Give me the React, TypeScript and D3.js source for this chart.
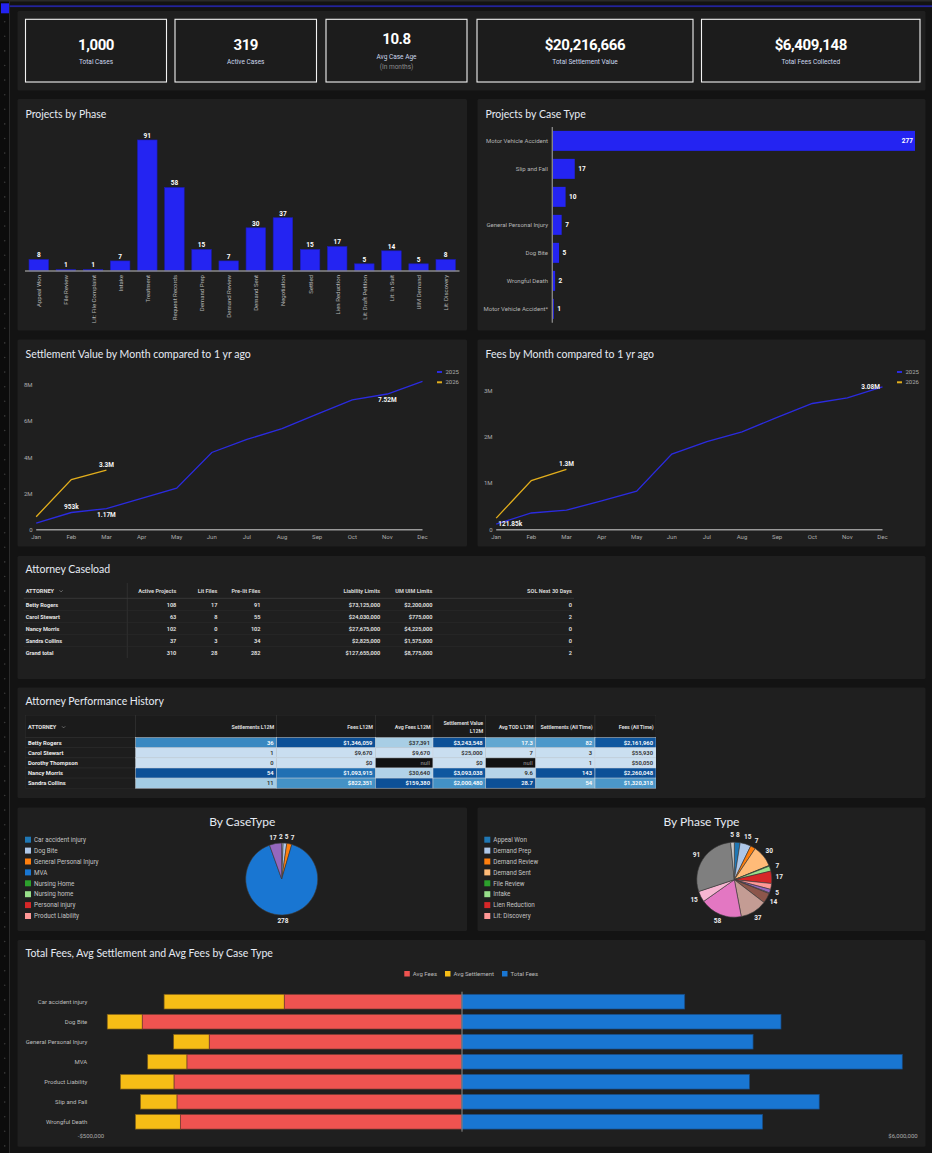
import React from "react";
import * as d3 from "d3";

const W = 932;
const H = 1153;

const FONT = "Roboto, 'Noto Sans', sans-serif";
const TITLE_FONT = "Lato, 'Open Sans', sans-serif";
const PAGE_BG = "#131313";
const PANEL_BG = "#1f1f1f";
const TITLE_COLOR = "#e6ebf4";
const MUTED = "#ababab";
const BAR_BLUE = "#2424f2";
const LINE_BLUE = "#2b2be0";
const LINE_YELLOW = "#e2ae1c";

// KPI row
const kpiValues = ["1,000", "319", "10.8", "$20,216,666", "$6,409,148"];
const kpiLabels = ["Total Cases", "Active Cases", "Avg Case Age", "Total Settlement Value", "Total Fees Collected"];
const kpiNotes = ["", "", "(In months)", "", ""];

// Projects by Phase
const phaseNames = [
  "Appeal Won", "File Review", "Lit: File Complaint", "Intake", "Treatment", "Request Records",
  "Demand Prep", "Demand Review", "Demand Sent", "Negotiation", "Settled", "Lien Reduction",
  "Lit: Draft Petition", "Lit: In Suit", "UIM Demand", "Lit: Discovery",
];
const phaseCounts = [8, 1, 1, 7, 91, 58, 15, 7, 30, 37, 15, 17, 5, 14, 5, 8];

// Projects by Case Type
const caseTypeNames = [
  "Motor Vehicle Accident", "Slip and Fall", "", "General Personal Injury",
  "Dog Bite", "Wrongful Death", "Motor Vehicle Accident*",
];
const caseTypeCounts = [277, 17, 10, 7, 5, 2, 1];

// monthly lines
const months = ["Jan", "Feb", "Mar", "Apr", "May", "Jun", "Jul", "Aug", "Sep", "Oct", "Nov", "Dec"];
const settlement2025 = [370000, 953000, 1170000, 1740000, 2300000, 4280000, 5000000, 5600000, 6410000, 7190000, 7520000, 8220000];
const settlement2026 = [720000, 2780000, 3300000];
const fees2025 = [121850, 360000, 420000, 620000, 830000, 1630000, 1900000, 2110000, 2420000, 2720000, 2840000, 3080000];
const fees2026 = [250000, 1060000, 1300000];
const settlementTicks = [0, 2000000, 4000000, 6000000, 8000000];
const feesTicks = [0, 1000000, 2000000, 3000000];
const seriesNames = ["2025", "2026"];

// Attorney Caseload
const caseloadAttorneys = ["Betty Rogers", "Carol Stewart", "Nancy Morris", "Sandra Collins", "Grand total"];
const caseloadActive = [108, 63, 102, 37, 310];
const caseloadLit = [17, 8, 0, 3, 28];
const caseloadPrelit = [91, 55, 102, 34, 282];
const caseloadLiability = [73125000, 24030000, 27675000, 2825000, 127655000];
const caseloadUim = [2200000, 775000, 4225000, 1575000, 8775000];
const caseloadSol = [0, 2, 0, 0, 2];

// Attorney Performance History
const perfAttorneys = ["Betty Rogers", "Carol Stewart", "Dorothy Thompson", "Nancy Morris", "Sandra Collins"];
const perfSettlementsL12M = [36, 1, 0, 54, 11];
const perfFeesL12M = [1346059, 9670, 0, 1093915, 822351];
const perfAvgFeesL12M = [37391, 9670, null, 30640, 159380];
const perfSettlementValueL12M = [3243548, 25000, 0, 3093038, 2000480];
const perfAvgTodL12M = [17.3, 7, null, 9.6, 28.7];
const perfSettlementsAllTime = [82, 3, 1, 143, 54];
const perfFeesAllTime = [2161960, 55930, 50050, 2260048, 1320318];

// By CaseType pie
const caseLegendNames = ["Car accident injury", "Dog Bite", "General Personal Injury", "MVA", "Nursing Home", "Nursing home", "Personal injury", "Product Liability"];
const caseLegendColors = ["#1f77b4", "#aec7e8", "#ff7f0e", "#1976d2", "#2ca02c", "#98df8a", "#d62728", "#ff9896"];
const casePieNames = ["Wrongful Death", "Dog Bite", "General Personal Injury", "MVA", "Slip and Fall"];
const casePieValues = [2, 5, 7, 278, 17];
const casePieColors = ["#c5c5d8", "#aec7e8", "#ff7f0e", "#1976d2", "#9467bd"];

// By Phase Type pie
const phasePieNames = [
  "Appeal Won", "Demand Prep", "Demand Review", "Demand Sent", "File Review", "Intake", "Lien Reduction",
  "Lit: Discovery", "Lit: Draft Petition", "Lit: File Complaint", "Lit: In Suit", "Negotiation",
  "Request Records", "Settled", "Treatment", "UIM Demand",
];
const phasePieValues = [8, 15, 7, 30, 1, 7, 17, 8, 5, 1, 14, 37, 58, 15, 91, 5];
const phasePieColors = [
  "#1f77b4", "#aec7e8", "#ff7f0e", "#ffbb78", "#2ca02c", "#98df8a", "#d62728", "#ff9896",
  "#9467bd", "#c5b0d5", "#8c564b", "#c49c94", "#e377c2", "#f7b6d2", "#7f7f7f", "#c7c7c7",
];
const phasePieHiddenLabels = ["File Review", "Lit: File Complaint", "Lit: Discovery"];

// Total Fees, Avg Settlement and Avg Fees
const feeCaseTypes = ["Car accident injury", "Dog Bite", "General Personal Injury", "MVA", "Product Liability", "Slip and Fall", "Wrongful Death"];
const avgFees = [239500, 430900, 340600, 370600, 388000, 384000, 379600];
const avgSettlement = [162000, 47200, 48000, 53000, 72400, 49400, 60600];
const totalFees = [3030000, 4340000, 3960000, 5990000, 3910000, 4860000, 4090000];
const feeSeries = ["Avg Fees", "Avg Settlement", "Total Fees"];
const feeColors = ["#ef5350", "#f6bd16", "#1976d2"];

const money = (v: number) => (v < 0 ? "-" : "") + "$" + d3.format(",")(Math.abs(v));
const short = d3.format(".5~s");

function Panel({ x, y, w, h, title, ty = 18 }: any) {
  return (
    <g>
      <rect x={x} y={y} width={w} height={h} fill={PANEL_BG} rx={1.5} />
      {title && (
        <text x={x + 8} y={y + ty} fontFamily={TITLE_FONT} fontSize={10.5} fill={TITLE_COLOR}>
          {title}
        </text>
      )}
    </g>
  );
}

function Frame() {
  const dots = d3.range(21.7, H, 14.6);
  return (
    <g>
      <rect x={0} y={0} width={9} height={H} fill="#0c0c0c" />
      <line x1={9.5} x2={9.5} y1={0} y2={H} stroke="#2b2b2b" />
      {dots.map((d) => (
        <circle key={d} cx={4.7} cy={d} r={0.8} fill="#3a3a3a" />
      ))}
      <rect x={0} y={0} width={W} height={1.5} fill="#2a2a2a" />
      <rect x={9.5} y={5.3} width={W - 9.5} height={1.8} fill="#23239c" />
      <rect x={1} y={3.3} width={8} height={10} fill="#2323f0" />
    </g>
  );
}

function KpiRow() {
  const cards = [
    [25.5, 166.5],
    [175, 316.5],
    [326, 467],
    [477, 693],
    [701.5, 920],
  ];
  return (
    <g>
      <Panel x={17.5} y={11} w={908} h={79.5} />
      {kpiValues.map((v, i) => {
        const [x0, x1] = cards[i];
        const cx = (x0 + x1) / 2;
        const hasNote = kpiNotes[i] !== "";
        return (
          <g key={v}>
            <rect x={x0} y={19.3} width={x1 - x0} height={62.7} fill="#1c1c1c" stroke="#f2f2f2" strokeWidth={1.1} />
            <text x={cx} y={hasNote ? 43.5 : 50} textAnchor="middle" fontSize={15} fontWeight={700} letterSpacing={-0.4} fill="#ffffff">
              {v}
            </text>
            <text x={cx} y={hasNote ? 58.5 : 63.5} textAnchor="middle" fontSize={6.5} fill="#cdd8ee">
              {kpiLabels[i]}
            </text>
            {hasNote && (
              <text x={cx} y={69} textAnchor="middle" fontSize={6.5} fill="#8d8d8d">
                {kpiNotes[i]}
              </text>
            )}
          </g>
        );
      })}
    </g>
  );
}

function PhaseBars() {
  const x = d3.scaleBand<string>().domain(phaseNames).range([25, 459.5]).paddingInner(0.28).paddingOuter(0.148);
  const y = d3.scaleLinear().domain([0, 100]).range([271, 127]);
  const bw = x.bandwidth();
  return (
    <g>
      <Panel x={17.5} y={99} w={449.5} h={231.5} title="Projects by Phase" ty={19} />
      {phaseNames.map((n, i) => {
        const v = phaseCounts[i];
        const bx = x(n)!;
        return (
          <g key={n}>
            <rect x={bx} y={y(v)} width={bw} height={y(0) - y(v)} fill={BAR_BLUE} stroke="#1c1cb4" strokeWidth={0.6} />
            <text x={bx + bw / 2} y={y(v) - 2.2} textAnchor="middle" fontSize={6.5} fontWeight={700} fill="#ffffff">
              {v}
            </text>
            <text
              transform={`translate(${bx + bw / 2},275) rotate(-90)`}
              textAnchor="end"
              dominantBaseline="central"
              fontSize={6}
              fill="#b5b5b5"
            >
              {n}
            </text>
          </g>
        );
      })}
      <line x1={25} x2={459.5} y1={271} y2={271} stroke="#8a8a8a" strokeWidth={1.3} />
    </g>
  );
}

function CaseTypeBars() {
  const idx = d3.range(caseTypeNames.length);
  const y = d3.scaleBand<number>().domain(idx).range([127, 322.7]).paddingInner(0.286).paddingOuter(0.138);
  const x = d3.scaleLinear().domain([0, 277]).range([552.5, 915]);
  const maxV = d3.max(caseTypeCounts)!;
  return (
    <g>
      <Panel x={477.5} y={99} w={448} h={231.5} title="Projects by Case Type" ty={19} />
      {idx.map((i) => {
        const v = caseTypeCounts[i];
        const by = y(i)!;
        const cy = by + y.bandwidth() / 2;
        const inside = v === maxV;
        return (
          <g key={i}>
            <rect x={x(0)} y={by} width={x(v) - x(0)} height={y.bandwidth()} fill={BAR_BLUE} />
            <text x={548} y={cy} textAnchor="end" dominantBaseline="central" fontSize={6} fill="#b5b5b5">
              {caseTypeNames[i]}
            </text>
            <text
              x={inside ? x(v) - 2 : x(v) + 3.5}
              y={cy}
              textAnchor={inside ? "end" : "start"}
              dominantBaseline="central"
              fontSize={6.5}
              fontWeight={700}
              fill="#ffffff"
            >
              {v}
            </text>
          </g>
        );
      })}
      <line x1={552.3} x2={552.3} y1={127} y2={322.7} stroke="#8a8a8a" strokeWidth={1.3} />
    </g>
  );
}

function LineChart({ px, title, s2025, s2026, yMax, ticks, notes }: any) {
  const x = d3.scalePoint<string>().domain(months).range([px + 18.7, px + 405]);
  const y = d3.scaleLinear().domain([0, yMax]).range([529.7, 367.3]);
  const line = d3
    .line<number>()
    .x((_, i) => x(months[i])!)
    .y((d) => y(d));
  const series = [s2025, s2026];
  const colors = [LINE_BLUE, LINE_YELLOW];
  return (
    <g>
      <Panel x={px} y={339.5} w={px < 100 ? 449.5 : 448} h={207} title={title} />
      {ticks.map((t: number) => (
        <text key={t} x={px + 15} y={y(t) + 2} textAnchor="end" fontSize={6} fill={MUTED}>
          {t === 0 ? "0" : d3.format("~s")(t)}
        </text>
      ))}
      {months.map((m) => (
        <text key={m} x={x(m)} y={539} textAnchor="middle" fontSize={6} fill={MUTED}>
          {m}
        </text>
      ))}
      <line x1={x("Jan")} x2={x("Dec")} y1={y(0)} y2={y(0)} stroke="#9a9a9a" strokeWidth={1.5} />
      {series.map((s: number[], k: number) => (
        <path key={k} d={line(s)!} fill="none" stroke={colors[k]} strokeWidth={1.3} />
      ))}
      {notes.map((n: any, k: number) => {
        const v = series[n.s][n.i];
        const nx = x(months[n.i])!;
        const ny = y(v);
        let tx = nx;
        let tyy = ny - 3.5;
        let anchor = "middle";
        if (n.pos === "below") tyy = ny + 8;
        if (n.pos === "right") {
          tx = nx + 2;
          tyy = ny + 2.3;
          anchor = "start";
        }
        if (n.pos === "left") {
          tx = nx - 2.5;
          tyy = ny + 2.3;
          anchor = "end";
        }
        return (
          <text key={k} x={tx} y={tyy} textAnchor={anchor} fontSize={6.5} fontWeight={700} fill="#f4f4f4">
            {short(v)}
          </text>
        );
      })}
      {seriesNames.map((s, k) => (
        <g key={s}>
          <line x1={px + 419.5} x2={px + 424.5} y1={372 + k * 10.3} y2={372 + k * 10.3} stroke={colors[k]} strokeWidth={2} />
          <text x={px + 428} y={374 + k * 10.3} fontSize={6} fill={MUTED}>
            {s}
          </text>
        </g>
      ))}
    </g>
  );
}

function Chevron({ x, y }: any) {
  return <path d={`M${x},${y} l1.6,1.6 l1.6,-1.6`} fill="none" stroke="#9a9a9a" strokeWidth={0.6} />;
}

function CaseloadTable() {
  const cols = [
    { label: "Active Projects", right: 176.3, vals: caseloadActive.map(String) },
    { label: "Lit Files", right: 217.4, vals: caseloadLit.map(String) },
    { label: "Pre-lit Files", right: 260.5, vals: caseloadPrelit.map(String) },
    { label: "Liability Limits", right: 380.2, vals: caseloadLiability.map(money) },
    { label: "UM UIM Limits", right: 432.4, vals: caseloadUim.map(money) },
    { label: "SOL Next 30 Days", right: 572, vals: caseloadSol.map(String) },
  ];
  const rowY = (i: number) => 605 + i * 12;
  return (
    <g>
      <Panel x={17.5} y={556} w={908} h={123} title="Attorney Caseload" ty={17} />
      <line x1={127.3} x2={127.3} y1={583} y2={658} stroke="#333" strokeWidth={0.8} />
      <line x1={23.7} x2={574} y1={598.3} y2={598.3} stroke="#3c3c3c" strokeWidth={0.8} />
      {caseloadAttorneys.slice(0, -1).map((_, i) => (
        <line key={i} x1={23.7} x2={574} y1={rowY(i) + 5.7} y2={rowY(i) + 5.7} stroke="#2b2b2b" strokeWidth={0.6} />
      ))}
      <text x={25.7} y={592.7} fontSize={5.6} fontWeight={700} fill="#e0e0e0">
        ATTORNEY
      </text>
      <Chevron x={59.5} y={590.3} />
      {cols.map((c) => (
        <text key={c.label} x={c.right} y={592.7} textAnchor="end" fontSize={5.6} fontWeight={700} fill="#d6d6d6">
          {c.label}
        </text>
      ))}
      {caseloadAttorneys.map((a, i) => (
        <g key={a}>
          <text x={25.7} y={rowY(i) + 2} fontSize={5.6} fontWeight={700} fill="#e6e6e6">
            {a}
          </text>
          {cols.map((c) => (
            <text key={c.label} x={c.right} y={rowY(i) + 2} textAnchor="end" fontSize={5.6} fontWeight={600} fill="#e6e6e6">
              {c.vals[i]}
            </text>
          ))}
        </g>
      ))}
    </g>
  );
}

function PerformanceTable() {
  const edges = [25.3, 135.6, 276.6, 375.4, 433, 485.6, 535.8, 595, 656];
  const fmtCount = (v: number | null) => (v === null ? "null" : String(v));
  const fmtMoney = (v: number | null) => (v === null ? "null" : money(v));
  const cols = [
    { label: ["Settlements L12M"], vals: perfSettlementsL12M, fmt: fmtCount },
    { label: ["Fees L12M"], vals: perfFeesL12M, fmt: fmtMoney },
    { label: ["Avg Fees L12M"], vals: perfAvgFeesL12M, fmt: fmtMoney },
    { label: ["Settlement Value", "L12M"], vals: perfSettlementValueL12M, fmt: fmtMoney },
    { label: ["Avg TOD L12M"], vals: perfAvgTodL12M, fmt: fmtCount },
    { label: ["Settlements (All Time)"], vals: perfSettlementsAllTime, fmt: fmtCount },
    { label: ["Fees (All Time)"], vals: perfFeesAllTime, fmt: fmtMoney },
  ];
  const headTop = 715;
  const headBottom = 737.7;
  const rowH = 10.1;
  return (
    <g>
      <Panel x={17.5} y={687.5} w={908} h={110.5} title="Attorney Performance History" ty={17.5} />
      <defs>
        <clipPath id="perfClip">
          <rect x={edges[0]} y={headTop} width={edges[8] - edges[0]} height={791 - headTop} />
        </clipPath>
      </defs>
      <g clipPath="url(#perfClip)">
        {edges.slice(0, -1).map((e, c) => (
          <rect key={c} x={e} y={headTop} width={edges[c + 1] - e} height={headBottom - headTop} fill="#1b1b1b" stroke="#343434" strokeWidth={0.6} />
        ))}
        <text x={28} y={728.7} fontSize={5.6} fontWeight={700} fill="#e0e0e0">
          ATTORNEY
        </text>
        <Chevron x={62} y={726.3} />
        {cols.map((c, k) =>
          c.label.map((l, j) => (
            <text
              key={k + "-" + j}
              x={edges[k + 2] - 2.5}
              y={c.label.length > 1 ? 725.3 + j * 7.4 : 728.7}
              textAnchor="end"
              fontSize={5.4}
              fontWeight={700}
              letterSpacing={-0.12}
              fill="#d8d8d8"
            >
              {l}
            </text>
          ))
        )}
        {perfAttorneys.map((a, i) => {
          const ry = headBottom + i * rowH;
          return (
            <g key={a}>
              <rect x={edges[0]} y={ry} width={edges[1] - edges[0]} height={rowH} fill="#1d1d1d" stroke="#303030" strokeWidth={0.5} />
              <text x={28} y={ry + rowH / 2 + 2} fontSize={5.8} fontWeight={700} fill="#ececec">
                {a}
              </text>
            </g>
          );
        })}
        {cols.map((c, k) => {
          const present = c.vals.filter((v) => v !== null) as number[];
          const lo = d3.min(present)!;
          const hi = d3.max(present)!;
          const t = d3.scaleLinear().domain([lo, hi]).range([0.22, 0.88]);
          return c.vals.map((v, i) => {
            const ry = headBottom + i * rowH;
            const tv = v === null ? 0 : t(v);
            const fill = v === null ? "#111111" : d3.interpolateBlues(tv);
            const tc = v === null ? "#7a7a7a" : tv > 0.45 ? "#ffffff" : "#2e2e2e";
            return (
              <g key={k + "-" + i}>
                <rect x={edges[k + 1]} y={ry} width={edges[k + 2] - edges[k + 1]} height={rowH} fill={fill} stroke="#c9d3de" strokeWidth={0.5} />
                <text x={edges[k + 2] - 3} y={ry + rowH / 2 + 2} textAnchor="end" fontSize={5.8} fontWeight={600} fill={tc}>
                  {c.fmt(v)}
                </text>
              </g>
            );
          });
        })}
      </g>
    </g>
  );
}

function PieChart({ px, pw, title, cx, cy, r, labelR, legendX, legendNames, legendColors, names, values, colors, hidden }: any) {
  const arcs = d3.pie<number>().sort(null).value((d) => d)(values);
  const arc = d3.arc<d3.PieArcDatum<number>>().innerRadius(0).outerRadius(r);
  const placed: { x: number; y: number; w: number; txt: string }[] = [];
  arcs.forEach((a, i) => {
    if (hidden.includes(names[i])) return;
    const ang = (a.startAngle + a.endAngle) / 2;
    const txt = String(values[i]);
    placed.push({
      x: cx + labelR * Math.sin(ang),
      y: cy - labelR * Math.cos(ang),
      w: txt.length * 3.7,
      txt,
    });
  });
  // relax overlapping labels sideways, a few passes
  for (let pass = 0; pass < 8; pass++) {
    for (let i = 0; i < placed.length; i++) {
      for (let j = i + 1; j < placed.length; j++) {
        const a = placed[i];
        const b = placed[j];
        const need = (a.w + b.w) / 2 + 2.2;
        const gap = Math.abs(a.x - b.x);
        if (Math.abs(a.y - b.y) < 7 && gap < need) {
          const d = (need - gap) / 2;
          const dir = b.x >= a.x ? 1 : -1;
          b.x += dir * d;
          a.x -= dir * d;
        }
      }
    }
  }
  return (
    <g>
      <Panel x={px} y={807.5} w={pw} h={123.5} />
      <text x={px + pw / 2} y={825.7} textAnchor="middle" fontFamily={TITLE_FONT} fontSize={12} fill={TITLE_COLOR}>
        {title}
      </text>
      {legendNames.map((n: string, i: number) => (
        <g key={n}>
          <rect x={legendX} y={836.7 + i * 10.9} width={6} height={6} fill={legendColors[i]} />
          <text x={legendX + 9} y={841.9 + i * 10.9} fontSize={6.3} fill="#c4c4c4">
            {n}
          </text>
        </g>
      ))}
      <g transform={`translate(${cx},${cy})`}>
        {arcs.map((a, i) => (
          <path key={i} d={arc(a)!} fill={colors[i]} stroke="#3a3a3a" strokeWidth={0.6} />
        ))}
      </g>
      {placed.map((l, i) => (
        <text key={i} x={l.x} y={l.y} textAnchor="middle" dominantBaseline="central" fontSize={6.5} fontWeight={700} fill="#eeeeee">
          {l.txt}
        </text>
      ))}
    </g>
  );
}

function FeesChart() {
  const y = d3.scaleBand<string>().domain(feeCaseTypes).range([991.7, 1131.7]).paddingInner(0.265).paddingOuter(0.13);
  const xl = d3.scaleLinear().domain([-500000, 0]).range([91, 462]);
  const xr = d3.scaleLinear().domain([0, 6000000]).range([462, 903]);
  const legendX = [404.3, 445, 502];
  return (
    <g>
      <Panel x={17.5} y={940} w={908} h={206.7} title="Total Fees, Avg Settlement and Avg Fees by Case Type" ty={17.3} />
      {feeSeries.map((s, k) => (
        <g key={s}>
          <rect x={legendX[k]} y={971} width={5.5} height={5.5} fill={feeColors[k]} />
          <text x={legendX[k] + 8.5} y={976} fontSize={6} fill="#b9b9b9">
            {s}
          </text>
        </g>
      ))}
      {feeCaseTypes.map((c, i) => {
        const by = y(c)!;
        const bh = y.bandwidth();
        const feeEnd = xl(-avgFees[i]);
        const setEnd = xl(-(avgFees[i] + avgSettlement[i]));
        return (
          <g key={c}>
            <text x={87.3} y={by + bh / 2} textAnchor="end" dominantBaseline="central" fontSize={6} fill="#bdbdbd">
              {c}
            </text>
            <rect x={setEnd} y={by} width={feeEnd - setEnd} height={bh} fill={feeColors[1]} stroke="#7a5a1a" strokeWidth={0.7} />
            <rect x={feeEnd} y={by} width={xl(0) - feeEnd} height={bh} fill={feeColors[0]} stroke="#6e3a30" strokeWidth={0.7} />
            <rect x={xr(0)} y={by} width={xr(totalFees[i]) - xr(0)} height={bh} fill={feeColors[2]} stroke="#1a4a80" strokeWidth={0.7} />
          </g>
        );
      })}
      <line x1={462} x2={462} y1={991.7} y2={1131.7} stroke="#8c8c8c" strokeWidth={1} />
      <text x={xl(-500000)} y={1138} textAnchor="middle" fontSize={6} fill={MUTED}>
        {money(-500000)}
      </text>
      <text x={xr(6000000)} y={1138} textAnchor="middle" fontSize={6} fill={MUTED}>
        {money(6000000)}
      </text>
    </g>
  );
}

export default function App() {
  const settlementNotes = [
    { s: 0, i: 1, pos: "above" },
    { s: 0, i: 2, pos: "below" },
    { s: 0, i: 10, pos: "below" },
    { s: 1, i: 2, pos: "above" },
  ];
  const feesNotes = [
    { s: 0, i: 0, pos: "right" },
    { s: 0, i: 11, pos: "left" },
    { s: 1, i: 2, pos: "above" },
  ];
  return (
    <svg
      width={W}
      height={H}
      viewBox={`0 0 ${W} ${H}`}
      style={{ position: "absolute", left: 0, top: 0, display: "block" }}
      fontFamily={FONT}
    >
      <rect width={W} height={H} fill={PAGE_BG} />
      <Frame />
      <KpiRow />
      <PhaseBars />
      <CaseTypeBars />
      <LineChart
        px={17.5}
        title="Settlement Value by Month compared to 1 yr ago"
        s2025={settlement2025}
        s2026={settlement2026}
        yMax={9000000}
        ticks={settlementTicks}
        notes={settlementNotes}
      />
      <LineChart
        px={477.5}
        title="Fees by Month compared to 1 yr ago"
        s2025={fees2025}
        s2026={fees2026}
        yMax={3500000}
        ticks={feesTicks}
        notes={feesNotes}
      />
      <CaseloadTable />
      <PerformanceTable />
      <PieChart
        px={17.5}
        pw={449.5}
        title="By CaseType"
        cx={281.7}
        cy={879}
        r={36}
        labelR={42}
        legendX={25}
        legendNames={caseLegendNames}
        legendColors={caseLegendColors}
        names={casePieNames}
        values={casePieValues}
        colors={casePieColors}
        hidden={[]}
      />
      <PieChart
        px={477.5}
        pw={448}
        title="By Phase Type"
        cx={734.3}
        cy={879.7}
        r={37.5}
        labelR={45}
        legendX={484.3}
        legendNames={phasePieNames.slice(0, 8)}
        legendColors={phasePieColors.slice(0, 8)}
        names={phasePieNames}
        values={phasePieValues}
        colors={phasePieColors}
        hidden={phasePieHiddenLabels}
      />
      <FeesChart />
    </svg>
  );
}
